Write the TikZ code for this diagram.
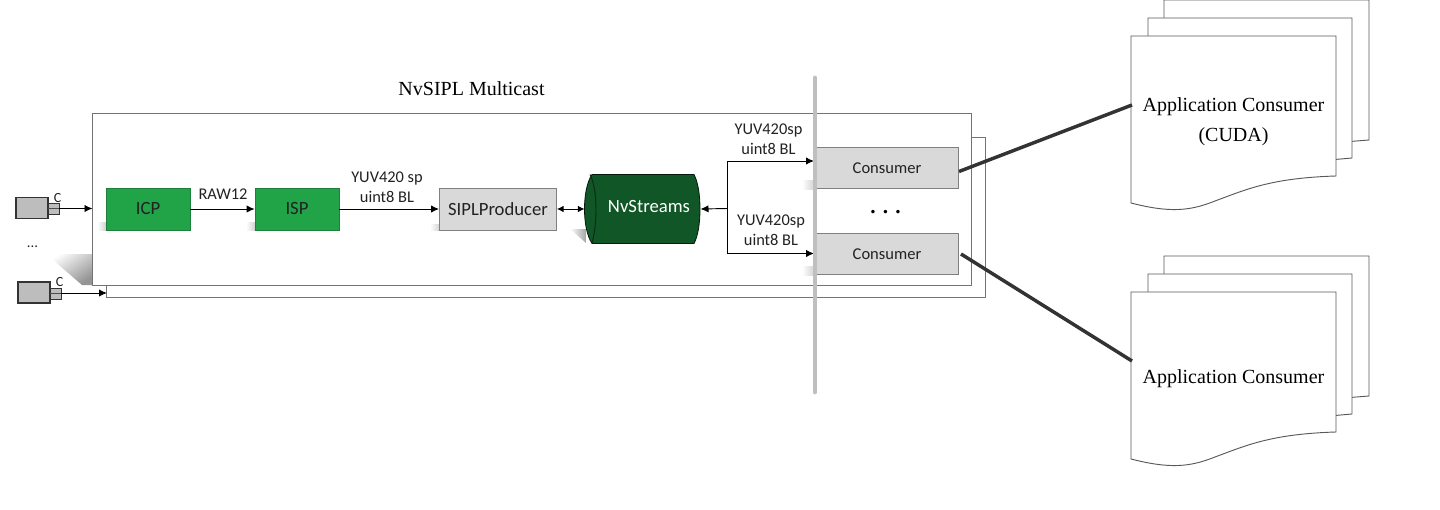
\documentclass[tikz,border=0pt]{standalone}
\usepackage{fontspec}
\setmainfont{Liberation Serif}
\newfontfamily\calb{Carlito}
\usetikzlibrary{arrows.meta,shapes.geometric}
\definecolor{gbox}{HTML}{21A348}
\definecolor{gboxd}{HTML}{1E7F3C}
\definecolor{dgreen}{HTML}{115626}
\definecolor{lgray}{HTML}{D9D9D9}
\definecolor{cam}{HTML}{BDBDBD}
\definecolor{txt}{HTML}{222222}
\tikzset{
  x=0.75pt,y=-0.75pt,
  frame/.style={draw=black!55,fill=white,line width=0.65pt},
  gbx/.style={draw=gboxd,fill=gbox,line width=0.6pt,minimum width=63pt,minimum height=31.5pt,inner sep=0pt,text=txt,font=\calb\fontsize{14pt}{15pt}\selectfont},
  graybx/.style={draw=black!50,fill=lgray,line width=0.7pt,inner sep=0pt,text=txt},
  lab/.style={align=center,text=txt,font=\calb\fontsize{12.3pt}{15.2pt}\selectfont,inner sep=0pt},
  serif/.style={align=center,text=black,font=\fontsize{15pt}{22.5pt}\selectfont,inner sep=0pt},
  arr/.style={draw=black,line width=0.7pt,-{Latex[length=6pt,width=5.5pt]}},
  darr/.style={draw=black,line width=0.7pt,{Latex[length=5pt,width=5pt]}-{Latex[length=5pt,width=5pt]}},
  barr/.style={draw=black,line width=0.7pt,{Latex[length=6pt,width=5.5pt]}-{Latex[length=6pt,width=5.5pt]}},
  heavylink/.style={draw=black!80,line width=2.6pt},
  page/.style={draw=black!65,fill=white,line width=0.7pt},
  camera/.style={draw=black!80,fill=cam,line width=1pt},
  softshadow/.style={left color=white,right color=black!20},
}
\newcommand{\stackdoc}[1]{%
  \begin{scope}[shift={(0,#1)}]
    \path[page] (1164,18) -- (1164,0) -- (1369,0) -- (1369,140) -- (1350,141.5);
    \path[page] (1148,36) -- (1148,18) -- (1352,18) -- (1352,158) -- (1335,159.5);
    \path[page] (1131,36) -- (1336,36) -- (1336,176)
      .. controls (1270,178) and (1245,190) .. (1215,201)
      .. controls (1190,211) and (1170,213) .. (1131,203) -- cycle;
  \end{scope}}
\newcommand{\camerashape}[2]{%
  \begin{scope}[shift={(#1,#2)}]
    \path[camera] (0,0) rectangle (32,21);
    \path[camera,line width=0.7pt] (32,6) rectangle (43,17);
    \draw[black!70,line width=0.5pt] (32,11) -- (43,11);
  \end{scope}}
\begin{document}
\begin{tikzpicture}
\useasboundingbox (0,0) rectangle (1440,510);
% wedge shadow behind the frames
\shade[top color=white,bottom color=black!42,shading angle=35] (46,254) -- (92,254) -- (92,285) -- (82,285) -- cycle;
% frames
\path[frame] (106,137.5) rectangle (985,297.5);
\path[frame] (92.5,113) rectangle (971,285);
% soft shadows
\shade[softshadow] (97,222) rectangle (107,230);
\shade[softshadow] (246,222) rectangle (256,230);
\shade[softshadow] (430,224) rectangle (441,230);
\shade[left color=white,right color=black!35] (570,229) -- (586,229) -- (586,243) -- cycle;
\shade[softshadow] (802,180) rectangle (816,189);
\shade[softshadow] (802,266) rectangle (816,275);
% title
\node[serif] (title) at (471.5,89) {NvSIPL Multicast};
% blocks
\node[gbx] (icp) at (148,209) {ICP};
\node[gbx] (isp) at (297,209) {ISP};
\node[graybx,minimum width=87.75pt,minimum height=31.5pt,font=\calb\fontsize{14pt}{15pt}\selectfont] (prod) at (498,209) {SIPLProducer};
% cylinder
\fill[dgreen,draw=black!70!dgreen,line width=0.6pt] (592,174.5) -- (694,174.5)
  .. controls (698,182) and (700,195) .. (700,209)
  .. controls (700,223) and (698,236) .. (694,243.5) -- (592,243.5)
  .. controls (587,236) and (584.5,223) .. (584.5,209)
  .. controls (584.5,195) and (587,182) .. (592,174.5) -- cycle;
\draw[black!50!dgreen,line width=0.7pt] (590,174.5) .. controls (594,182) and (596,195) .. (596,209)
  .. controls (596,223) and (594,236) .. (592,243.5);
\node[inner sep=0pt,text=white,font=\calb\fontsize{14pt}{15pt}\selectfont] (nvs) at (649,206.5) {NvStreams};
\coordinate (nvsl) at (584.5,209);
\coordinate (nvsr) at (700.5,209);
% consumers
\node[graybx,minimum width=106.5pt,minimum height=30.75pt,font=\calb\fontsize{12.4pt}{14pt}\selectfont] (c1) at (887,168) {\raisebox{-0.75pt}{Consumer}};
\node[graybx,minimum width=106.5pt,minimum height=30.75pt,font=\calb\fontsize{12.4pt}{14pt}\selectfont] (c2) at (887,254) {Consumer};
\node[inner sep=0pt,font=\bfseries\fontsize{16pt}{16pt}\selectfont] (dots) at (885.5,212) {. . .};
% cameras
\camerashape{16}{197.5}
\camerashape{18}{282}
\node[inner sep=0pt,font=\calb\fontsize{10.5pt}{10.5pt}\selectfont,text=txt] (c1l) at (57.5,198) {C};
\node[inner sep=0pt,font=\calb\fontsize{10.5pt}{10.5pt}\selectfont,text=txt] (c2l) at (59.5,282) {C};
\node[inner sep=0pt,font=\calb\fontsize{11pt}{11pt}\selectfont,text=txt] (camdots) at (32.5,247) {...};
\coordinate (cam1) at (59,208.5);
\coordinate (cam2) at (61,293);
\coordinate (fr1) at (92.5,208.5);
\coordinate (fr2) at (107,293);
% connectors
\draw[arr] (cam1) -- (fr1);
\draw[arr] (cam2) -- (fr2);
\draw[arr] (icp) -- (isp);
\draw[arr] (isp) -- (prod);
\draw[darr] (prod) -- (nvsl);
\coordinate (split) at (727.5,208.5);
\draw[arr] (split) -- (nvsr);
\coordinate (t1) at (814,161);
\coordinate (t2) at (814,253.5);
\draw[barr] (t1) -| (split) |- (t2);
% labels
\node[lab] (raw) at (223,194.5) {RAW12};
\node[lab] (l1) at (387,187.5) {YUV420 sp\\uint8 BL};
\node[lab] (l2) at (768.5,139) {YUV420sp\\uint8 BL};
\node[lab] (l3) at (771,230.5) {YUV420sp\\uint8 BL};
% divider
\draw[black!25,line width=3.6pt,line cap=round] (815,78) -- (815,392);
% documents
\stackdoc{0}
\stackdoc{256}
\node[serif] (app1) at (1233.5,122) {Application Consumer\\(CUDA)};
\node[serif] (app2) at (1233.5,379) {Application Consumer};
\coordinate (d1) at (1132,105);
\coordinate (d2) at (1132,361);
\coordinate (c1r) at (959,171.5);
\coordinate (c2r) at (961,254);
\draw[heavylink] (c1r) -- (d1);
\draw[heavylink] (c2r) -- (d2);
\end{tikzpicture}
\end{document}
